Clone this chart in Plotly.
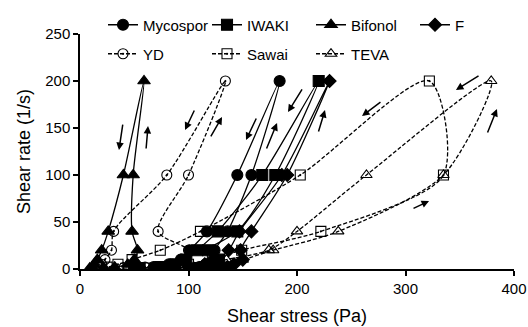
import plotly.graph_objects as go

# shear-rate sequence (up then down), 1/s
rates = [1, 2, 5, 10, 20, 40, 100, 200, 100, 40, 20, 10, 5, 2, 1]

# shear stress (Pa) for each measurement, in the same order
mycospor = [105, 110, 116, 123, 124, 136, 158, 184, 145, 117, 101, 93, 82, 68, 50]
iwaki    = [110, 116, 122, 128, 118, 145, 180, 220, 168, 127, 108, 98, 88, 74, 55]
bifonol  = [22, 32, 44, 50, 53, 48, 49, 59, 40, 26, 20, 16, 13, 11, 9]
f_       = [128, 136, 142, 150, 148, 158, 191, 230, 186, 147, 137, 126, 115, 100, 80]
yd       = [40, 60, 85, 97, 100, 72, 100, 134, 80, 31, 29, 23, 20, 18, 15]
sawai    = [60, 80, 100, 122, 149, 222, 335, 322, 203, 111, 74, 48, 35, 25, 20]
teva     = [85, 105, 125, 150, 178, 238, 335, 379, 264, 200, 174, 135, 115, 101, 81]

names = ["Mycospor", "IWAKI", "Bifonol", "F", "YD", "Sawai", "TEVA"]
series = [mycospor, iwaki, bifonol, f_, yd, sawai, teva]
symbols = ["circle", "square", "triangle-up", "diamond",
           "circle-open-dot", "square-open-dot", "triangle-up-open"]
sizes = [11, 11, 11, 10, 10, 10, 10]
dashed = [False, False, False, False, True, True, True]
legends = ["legend", "legend", "legend", "legend", "legend2", "legend2", "legend2"]

# direction arrows: (head_x, head_y, tail_x, tail_y) in data units
arrows = [
    (35.9, 126.6, 39.6, 155.3),
    (62.7, 152.1, 60.8, 126.6),
    (96.8, 147.9, 106.0, 170.2),
    (130.9, 161.7, 119.8, 139.4),
    (153.0, 137.2, 163.1, 161.7),
    (181.6, 155.3, 171.4, 126.6),
    (191.7, 167.0, 205.5, 192.6),
    (225.8, 169.1, 219.4, 144.7),
    (259.9, 162.8, 278.3, 178.7),
    (346.5, 190.4, 368.7, 206.4),
    (384.3, 170.2, 375.1, 143.6),
    (321.7, 72.3, 306.0, 63.8),
]

fig = go.Figure()
for nm, s, sym, sz, ds, lg in zip(names, series, symbols, sizes, dashed, legends):
    fig.add_trace(go.Scatter(
        x=s, y=rates, name=nm, mode="lines+markers",
        line=dict(color="black", width=1.3, shape="spline", smoothing=0.8,
                  dash="4px,2px" if ds else "solid"),
        marker=dict(symbol=sym, size=sz, color="black",
                    line=dict(color="black", width=1.1)),
        legend=lg,
    ))

for hx, hy, tx, ty in arrows:
    fig.add_annotation(x=hx, y=hy, ax=tx, ay=ty, xref="x", yref="y",
                       axref="x", ayref="y", text="", showarrow=True,
                       arrowhead=2, arrowsize=1, arrowwidth=1.5,
                       arrowcolor="black", standoff=0, startstandoff=0)

font = "Liberation Sans, Arial, sans-serif"
fig.update_layout(
    width=528, height=327,
    margin=dict(l=80, r=14, t=34, b=58, autoexpand=False),
    paper_bgcolor="white", plot_bgcolor="white",
    font=dict(family=font, size=15, color="black"),
    showlegend=True,
    legend=dict(orientation="h", xref="container", yref="container",
                x=103/528, y=1-25/327, xanchor="left", yanchor="middle",
                entrywidth=59, entrywidthmode="pixels",
                font=dict(size=15), bgcolor="rgba(0,0,0,0)"),
    legend2=dict(orientation="h", xref="container", yref="container",
                 x=103/528, y=1-54/327, xanchor="left", yanchor="middle",
                 entrywidth=59, entrywidthmode="pixels",
                 font=dict(size=15), bgcolor="rgba(0,0,0,0)"),
    xaxis=dict(range=[0, 400], tickvals=[0, 100, 200, 300, 400],
               showgrid=False, zeroline=False, showline=True,
               linecolor="black", linewidth=1.5, ticks="outside",
               ticklen=5, tickwidth=1.5, tickcolor="black",
               title=dict(text="Shear stress (Pa)", standoff=14),
               tickfont=dict(size=15), automargin=False),
    yaxis=dict(range=[0, 250], tickvals=[0, 50, 100, 150, 200, 250],
               showgrid=False, zeroline=False, showline=True,
               linecolor="black", linewidth=1.5, ticks="outside",
               ticklen=5, tickwidth=1.5, tickcolor="black",
               title=dict(text="Shear rate (1/s)", standoff=10),
               tickfont=dict(size=15), automargin=False),
)

fig.write_html("out.html")
